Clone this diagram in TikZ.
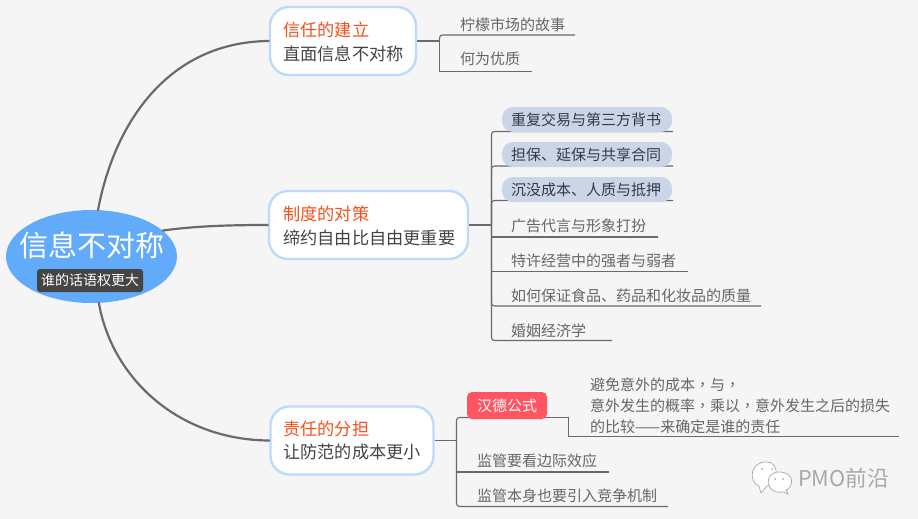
\documentclass[tikz,border=0pt]{standalone}
\usepackage{fontspec}
\setmainfont{Noto Sans CJK SC}
\newfontfamily\tcfont{Noto Sans CJK TC}
\usetikzlibrary{shapes.geometric}
\definecolor{pagebg}{HTML}{F5F5F5}
\definecolor{rootblue}{HTML}{62ABFA}
\definecolor{darkchip}{HTML}{454545}
\definecolor{topicborder}{HTML}{BDDAFD}
\definecolor{topicorange}{HTML}{F4511E}
\definecolor{topicdark}{HTML}{444444}
\definecolor{leafgrey}{HTML}{666666}
\definecolor{linegrey}{HTML}{6A6A6A}
\definecolor{pillblue}{HTML}{CAD5E8}
\definecolor{pilltext}{HTML}{333A4A}
\definecolor{pillred}{HTML}{FF5562}
\definecolor{logogrey}{HTML}{A8A8A8}
\newcommand{\cmark}{{\tcfont ，}}
\tikzset{
  x=1pt,y=-1pt,
  topic/.style={draw=topicborder,line width=2.4pt,fill=white,rounded corners=19pt,inner sep=0pt,minimum height=68pt},
  topictext/.style={font=\fontsize{17.2}{24}\selectfont,text=topicdark,align=left,anchor=west,inner sep=0pt},
  leaf/.style={font=\fontsize{15}{21}\selectfont,text=leafgrey,anchor=west,inner sep=0pt,align=left},
  pilltxt/.style={font=\fontsize{15}{18}\selectfont,text=pilltext,anchor=center,inner sep=0pt},
  pill/.style={fill=pillblue,rounded corners=11pt,inner sep=0pt,minimum width=170pt,minimum height=25pt},
  trunk/.style={draw=linegrey,line width=2.2pt,line cap=round},
  twig/.style={draw=linegrey,line width=1.1pt,rounded corners=3pt},
  sharptwig/.style={draw=linegrey,line width=1.1pt},
  stem/.style={draw=linegrey,line width=1.1pt},
}
\begin{document}
\begin{tikzpicture}
\useasboundingbox[fill=pagebg] (0,0) rectangle (918,519);

% topic boxes
\node[topic,minimum width=146pt] (t1) at (343,41) {};
\node[topic,minimum width=199pt] (t2) at (368.5,225) {};
\node[topic,minimum width=163pt] (t3) at (352,440.5) {};

% root
\node[ellipse,fill=rootblue,minimum width=171pt,minimum height=93pt,inner sep=0pt] (root) at (91.5,256.5) {};
\node[font=\fontsize{29}{32}\selectfont,text=white,inner sep=0pt] (title) at (92,245) {信息不对称};
\node[fill=darkchip,rounded corners=3pt,minimum width=106pt,minimum height=23pt,inner sep=0pt,font=\fontsize{14}{16}\selectfont,text=white] (sub) at (90,280.5) {谁的话语权更大};

% main curves
\draw[trunk] (root.82) .. controls (115,120) and (170,42) .. (t1.west);
\draw[trunk] (root.20) .. controls (195,226) and (230,225) .. (t2.west);
\draw[trunk] (root.-81) .. controls (112,378) and (178,440) .. (t3.west);

% topic text
\node[topictext] (t1a) at (283,30) {\textcolor{topicorange}{信任的建立}};
\node[topictext] (t1b) at (283,54) {直面信息不对称};
\node[topictext] (t2a) at (283,214) {\textcolor{topicorange}{制度的对策}};
\node[topictext] (t2b) at (283,238) {缔约自由比自由更重要};
\node[topictext] (t3a) at (283,429) {\textcolor{topicorange}{责任的分担}};
\node[topictext] (t3b) at (283,452) {让防范的成本更小};

% branch 1
\coordinate (j1) at (439.5,41);
\coordinate (e11) at (575,35);
\coordinate (e12) at (532,71.5);
\draw[stem] (t1.east) -- (j1);
\draw[twig] (j1) -- (439.5,35) -- (e11);
\draw[sharptwig] (j1) -- (439.5,71.5) -- (e12);
\node[leaf] (l11) at (460,24.5) {柠檬市场的故事};
\node[leaf] (l12) at (460,59) {何为优质};

% branch 2
\coordinate (j2) at (491.5,225);
\coordinate (e21) at (673,131.5);
\coordinate (e22) at (673,166);
\coordinate (e23) at (673,200.5);
\coordinate (e24) at (658,237);
\coordinate (e25) at (688,271.5);
\coordinate (e26) at (761,306);
\coordinate (e27) at (612,340.5);
\draw[stem] (t2.east) -- (j2);
\draw[twig] (j2) -- (491.5,131.5) -- (e21);
\draw[twig] (j2) -- (491.5,166) -- (e22);
\draw[twig] (j2) -- (491.5,200.5) -- (e23);
\draw[sharptwig] (j2) -- (491.5,237) -- (e24);
\draw[sharptwig] (j2) -- (491.5,271.5) -- (e25);
\draw[twig] (j2) -- (491.5,306) -- (e26);
\draw[twig] (j2) -- (491.5,340.5) -- (e27);
\node[pill] (p21) at (587,119.5) {};
\node[pill] (p22) at (587,154.5) {};
\node[pill] (p23) at (587,189.5) {};
\node[pilltxt] (l21) at (586,119.5) {重复交易与第三方背书};
\node[pilltxt] (l22) at (586,155) {担保、延保与共享合同};
\node[pilltxt] (l23) at (586,189.5) {沉没成本、人质与抵押};
\node[leaf] (l24) at (511,225.5) {广告代言与形象打扮};
\node[leaf] (l25) at (511,260.5) {特许经营中的强者与弱者};
\node[leaf] (l26) at (511,295.5) {如何保证食品、药品和化妆品的质量};
\node[leaf] (l27) at (511,330.5) {婚姻经济学};

% branch 3
\coordinate (j3) at (456.5,440.5);
\coordinate (e31) at (899,436.5);
\coordinate (e32) at (609,472);
\coordinate (e33) at (668,506.5);
\draw[stem] (t3.east) -- (j3);
\draw[twig] (j3) -- (456.5,417.5) -- (480,417.5);
\draw[sharptwig] (480,417.5) -- (568.5,417.5) -- (568.5,436.5) -- (e31);
\draw[sharptwig] (j3) -- (456.5,472) -- (e32);
\draw[twig] (j3) -- (456.5,506.5) -- (e33);
\node[fill=pillred,rounded corners=5pt,minimum width=80pt,minimum height=27pt,inner sep=0pt,font=\fontsize{15}{18}\selectfont,text=white] (p31) at (507,405.5) {汉德公式};
\node[leaf,anchor=north west] (l31) at (590,378) {避免意外的成本\cmark 与\cmark\\意外发生的概率\cmark 乘以\cmark 意外发生之后的损失\\的比较——来确定是谁的责任};
\node[leaf] (l32) at (477,460.5) {监管要看边际效应};
\node[leaf] (l33) at (477,496) {监管本身也要引入竞争机制};

% logo
\draw[logogrey,fill=white,line width=.7pt] (759,486) -- (761,493) -- (767,486) .. controls (780,485) and (779,461) .. (767,462) .. controls (750,461) and (748,482) .. (759,486) -- cycle;
\draw[logogrey,fill=white,line width=.7pt] (786,490) -- (788,494) -- (783,492) .. controls (765,495) and (763,472) .. (779,472) .. controls (795,472) and (794,487) .. (786,490) -- cycle;
\fill[logogrey] (762,469) circle (1pt) (772,469) circle (1pt) (775,479) circle (1pt) (783,479) circle (1pt);
\node[font=\fontsize{21.7}{24}\selectfont,text=logogrey,inner sep=0pt,anchor=west] (logo) at (798,478) {PMO前沿};
\end{tikzpicture}
\end{document}
